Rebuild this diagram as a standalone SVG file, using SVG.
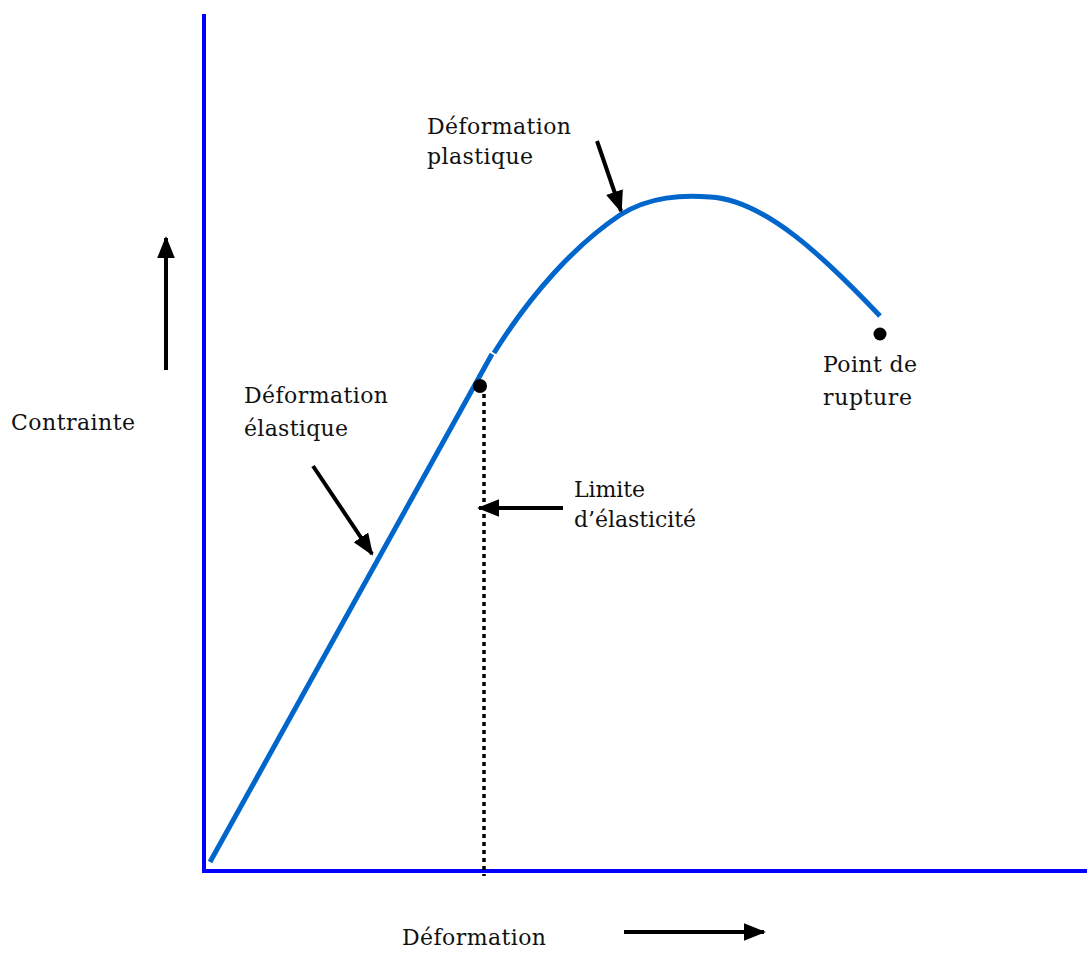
<svg xmlns="http://www.w3.org/2000/svg" width="1087" height="954" viewBox="0 0 1087 954">
<style>
text{font-family:"DejaVu Serif","Liberation Serif",serif;font-size:22px;fill:#111}
.ax{stroke:#0000ff;stroke-width:4;fill:none}
.cv{stroke:#0066cc;stroke-width:5;fill:none}
.ar{stroke:#000;stroke-width:4;fill:none;marker-end:url(#ah)}
</style>
<defs>
<marker id="ah" markerWidth="5.5" markerHeight="4.4" refX="5" refY="2.2" orient="auto" markerUnits="strokeWidth">
<path d="M0,0 L5.5,2.2 L0,4.4 Z" fill="#000"/>
</marker>
</defs>
<rect width="1087" height="954" fill="#fff"/>
<g id="axes">
<path class="ax" d="M204,14 V871 H1087"/>
</g>
<g id="curve">
<path class="cv" d="M210,862 L492,354"/>
<path class="cv" d="M494,353 C530,295 575,245 620,215 C650,196 683,195 710,197 C765,200 825,258 880,316"/>
</g>
<g id="limit-line">
<path d="M484,386 V876" stroke="#000" stroke-width="3.5" stroke-dasharray="4 4"/>
<circle cx="480" cy="386" r="7" fill="#000"/>
</g>
<g id="rupture-point">
<circle cx="880" cy="334" r="6.5" fill="#000"/>
</g>
<g id="connectors">
<line class="ar" x1="166" y1="370" x2="166" y2="238"/>
<line class="ar" x1="313" y1="466" x2="372" y2="554"/>
<line class="ar" x1="597" y1="141" x2="621" y2="211"/>
<line class="ar" x1="563" y1="508" x2="479" y2="508"/>
<line class="ar" x1="624" y1="932" x2="764" y2="932"/>
</g>
<g id="label-plastique">
<text x="427" y="134" textLength="144">Déformation</text>
<text x="427" y="164" textLength="106">plastique</text>
</g>
<g id="label-elastique">
<text x="244" y="403" textLength="144">Déformation</text>
<text x="244" y="436" textLength="104">élastique</text>
</g>
<g id="label-contrainte">
<text x="11" y="430" textLength="124">Contrainte</text>
</g>
<g id="label-limite">
<text x="574" y="497" textLength="71">Limite</text>
<text x="574" y="527" textLength="122">d’élasticité</text>
</g>
<g id="label-rupture">
<text x="823" y="372" textLength="94">Point de</text>
<text x="823" y="405" textLength="89">rupture</text>
</g>
<g id="label-deformation">
<text x="402" y="945" textLength="144">Déformation</text>
</g>
</svg>
